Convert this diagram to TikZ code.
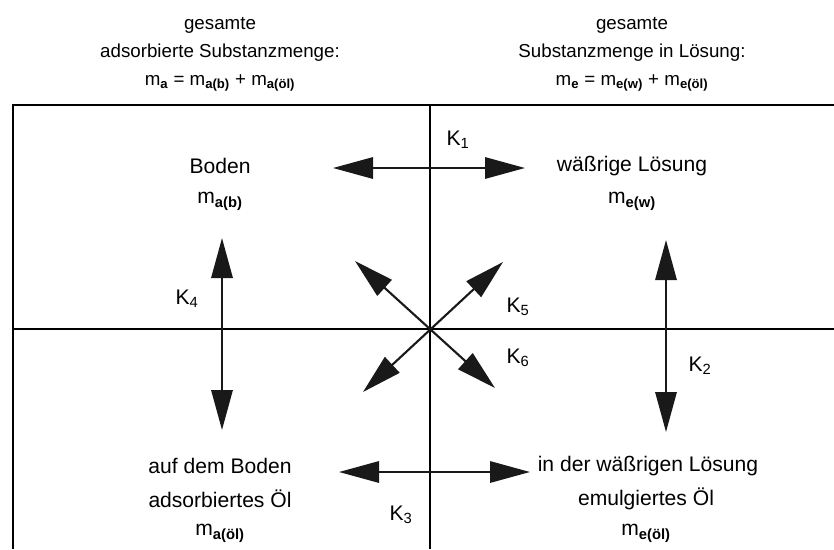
\documentclass[tikz,border=0pt]{standalone}
\usepackage{fontspec}
\setmainfont{Liberation Sans}
\usepackage{xcolor}
\usetikzlibrary{arrows.meta, positioning, calc}

\newcommand{\msub}[1]{m\textsubscript{\bfseries #1}}
\newcommand{\ksub}[1]{K\textsubscript{#1}}

\begin{document}
\begin{tikzpicture}[
    x=0.03cm, y=-0.03cm,
    head/.style={font=\fontsize{16}{19}\selectfont, align=center, inner sep=0pt},
    txt/.style={font=\fontsize{18}{21}\selectfont, align=center, inner sep=0pt},
    klab/.style={font=\fontsize{18}{21}\selectfont, inner sep=0pt},
    frame/.style={line width=1.5pt},
    arr/.style={{Triangle[length=1.2cm, width=0.64cm]}-{Triangle[length=1.2cm, width=0.64cm]}, line width=1.8pt, draw=black!90, fill=black!80},
]
\useasboundingbox (0,0) rectangle (834,549);

% header
\node[head] (hleft) at (220,54) {gesamte\\[5pt] adsorbierte Substanzmenge:\\[5pt] \msub{a} = \msub{a(b)} + \msub{a(öl)}};
\node[head] (hright) at (632,54) {gesamte\\[5pt] Substanzmenge in Lösung:\\[5pt] \msub{e} = \msub{e(w)} + \msub{e(öl)}};

% frame
\coordinate (tl) at (13,105);
\coordinate (tr) at (834,105);
\coordinate (bl) at (13,549);
\coordinate (tm) at (430,105);
\coordinate (bm) at (430,549);
\coordinate (ml) at (13,329);
\coordinate (mr) at (834,329);
\draw[frame] (bl) -- (tl) -- (tr);
\draw[frame] (tm) -- (bm);
\draw[frame] (ml) -- (mr);

% phases
\node[txt] (boden) at (220,166) {Boden};
\node[txt] (mab) at (220,201) {\msub{a(b)}};
\node[txt] (wasser) at (632,166) {wäßrige Lösung};
\node[txt] (mew) at (632,201) {\msub{e(w)}};
\node[txt] (oelb) at (220,466) {auf dem Boden};
\node[txt] (oelb2) at (220,499) {adsorbiertes Öl};
\node[txt] (maoel) at (220,533) {\msub{a(öl)}};
\node[txt] (oelw) at (648,466) {in der wäßrigen Lösung};
\node[txt] (oelw2) at (646,499) {emulgiertes Öl};
\node[txt] (meoel) at (646,533) {\msub{e(öl)}};

% arrow ends
\coordinate (k1a) at (333,168);
\coordinate (k1b) at (525,168);
\coordinate (k3a) at (339,472);
\coordinate (k3b) at (530,472);
\coordinate (k4a) at (222,238);
\coordinate (k4b) at (222,430);
\coordinate (k2a) at (666,240);
\coordinate (k2b) at (666,432);
\coordinate (k5a) at (363,392);
\coordinate (k5b) at (503,262);
\coordinate (k6a) at (355,261);
\coordinate (k6b) at (495,388);

\draw[arr] (k1a) -- (k1b);
\draw[arr] (k3a) -- (k3b);
\draw[arr] (k4a) -- (k4b);
\draw[arr] (k2a) -- (k2b);
\draw[arr] (k5a) -- (k5b);
\draw[arr] (k6a) -- (k6b);

% constants
\node[klab] (k1) at (458,140) {\ksub{1}};
\node[klab] (k2) at (700,366) {\ksub{2}};
\node[klab] (k3) at (401,515) {\ksub{3}};
\node[klab] (k4) at (187,299) {\ksub{4}};
\node[klab] (k5) at (518,307) {\ksub{5}};
\node[klab] (k6) at (518,358) {\ksub{6}};
\end{tikzpicture}
\end{document}
